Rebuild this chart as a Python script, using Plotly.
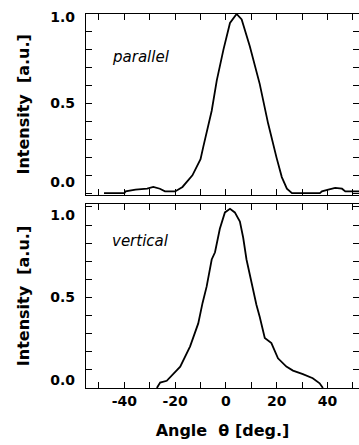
import plotly.graph_objects as go

# ---- data ----
par_angle = [-48, -40, -39.5, -35.6, -31, -28.6, -26, -24, -20, -17.1, -13.2, -10, -8.9,
             -5.6, -3.6, -1.0, 1.6, 4.2, 6.2, 9.4, 13.3, 16.6, 19.9, 22.0, 24, 26, 37,
             37.8, 40.3, 43, 45.7, 47, 52.4]
par_int = [0.0, 0.0, 0.01, 0.02, 0.025, 0.035, 0.025, 0.01, 0.01, 0.035, 0.10, 0.19, 0.26,
           0.46, 0.63, 0.80, 0.95, 1.0, 0.97, 0.82, 0.61, 0.39, 0.20, 0.09, 0.025, 0.0, 0.0,
           0.01, 0.02, 0.03, 0.025, 0.01, 0.01]

ver_angle = [-27.2, -25.9, -23.3, -18.0, -14.1, -10.9, -9.2, -7.6, -5.6, -4.3, -2.4, -0.4,
             1.6, 3.5, 5.5, 6.8, 8.1, 10.1, 12.0, 13.3, 15.3, 17.9, 20.5, 23.8, 26.4, 30.3,
             34.2, 36.9, 38.2]
ver_int = [0.0, 0.03, 0.04, 0.118, 0.23, 0.357, 0.47, 0.56, 0.71, 0.75, 0.88, 0.97,
           0.99, 0.97, 0.92, 0.83, 0.71, 0.58, 0.46, 0.394, 0.276, 0.248, 0.164, 0.118,
           0.096, 0.077, 0.054, 0.026, 0.0]

x_tick_vals = [-50, -40, -30, -20, -10, 0, 10, 20, 30, 40, 50]
x_tick_text = ["", "-40", "", "-20", "", "0", "", "20", "", "40", ""]
y_tick_text = ["0.0", "0.5", "1.0"]
# label anchor positions as printed (labels sit slightly inward of their ticks)
top_label_pos = [0.061, 0.503, 0.983]
bot_label_pos = [0.044, 0.503, 0.956]

panel_names = ["parallel", "vertical"]

# ---- figure ----
W, H = 359, 445
ml, mr, mt, mb = 86, 0, 14, 57

tick_font = dict(family="DejaVu Sans", size=14, color="black", weight="bold")
title_font = dict(family="DejaVu Sans", size=16, color="black", weight="bold")

fig = go.Figure()
fig.add_trace(go.Scatter(x=par_angle, y=par_int, mode="lines",
                         line=dict(color="black", width=1.8), xaxis="x", yaxis="y",
                         showlegend=False))
fig.add_trace(go.Scatter(x=ver_angle, y=ver_int, mode="lines",
                         line=dict(color="black", width=1.8), xaxis="x2", yaxis="y2",
                         showlegend=False))
# empty traces registering the label axes
fig.add_trace(go.Scatter(x=[], y=[], xaxis="x", yaxis="y3", showlegend=False, hoverinfo="skip"))
fig.add_trace(go.Scatter(x=[], y=[], xaxis="x2", yaxis="y4", showlegend=False, hoverinfo="skip"))

xcommon = dict(range=[-55.1, 52.4], showline=True, linecolor="black", linewidth=1,
               mirror="ticks", ticks="inside", ticklen=6, tickcolor="black", tickwidth=1,
               tickmode="array", tickvals=x_tick_vals, ticktext=x_tick_text,
               showgrid=False, zeroline=False, tickfont=tick_font)

# frame axes: ticks every 0.1, no labels
yframe = dict(showline=True, linecolor="black", linewidth=1, mirror="ticks",
              ticks="inside", ticklen=6, tickcolor="black", tickwidth=1,
              tickmode="linear", tick0=0, dtick=0.1, showticklabels=False,
              showgrid=False, zeroline=False)
# label axes: overlay carrying the printed labels
ylabels = dict(showline=False, ticks="", tickmode="array", ticktext=y_tick_text,
               showgrid=False, zeroline=False, tickfont=tick_font,
               ticklabelstandoff=10, side="left")

fig.update_layout(
    width=W, height=H,
    margin=dict(l=ml, r=mr, t=mt, b=mb),
    paper_bgcolor="white", plot_bgcolor="white",
    xaxis=dict(xcommon, anchor="y", showticklabels=False),
    yaxis=dict(yframe, domain=[0.517, 1.0], range=[-0.008, 1.0], anchor="x"),
    yaxis3=dict(ylabels, range=[-0.008, 1.0], anchor="x",
                overlaying="y", tickvals=top_label_pos,
                title=dict(text="Intensity  [a.u.]", font=title_font, standoff=16)),
    xaxis2=dict(xcommon, anchor="y2", ticklabelstandoff=0,
                title=dict(text="Angle  θ [deg.]", font=title_font, standoff=17)),
    yaxis2=dict(yframe, domain=[0.0, 0.492], range=[0.0, 1.0166], anchor="x2"),
    yaxis4=dict(ylabels, range=[0.0, 1.0166], anchor="x2",
                overlaying="y2", tickvals=bot_label_pos,
                title=dict(text="Intensity  [a.u.]", font=title_font, standoff=16)),
)

label_font = dict(family="DejaVu Sans", size=15, color="black", style="italic")
fig.add_annotation(text=panel_names[0], xref="paper", yref="y domain", x=0.088, y=0.76,
                   xanchor="left", yanchor="middle", showarrow=False, font=label_font)
fig.add_annotation(text=panel_names[1], xref="paper", yref="y2 domain", x=0.088, y=0.80,
                   xanchor="left", yanchor="middle", showarrow=False, font=label_font)

fig.write_html("out.html")
